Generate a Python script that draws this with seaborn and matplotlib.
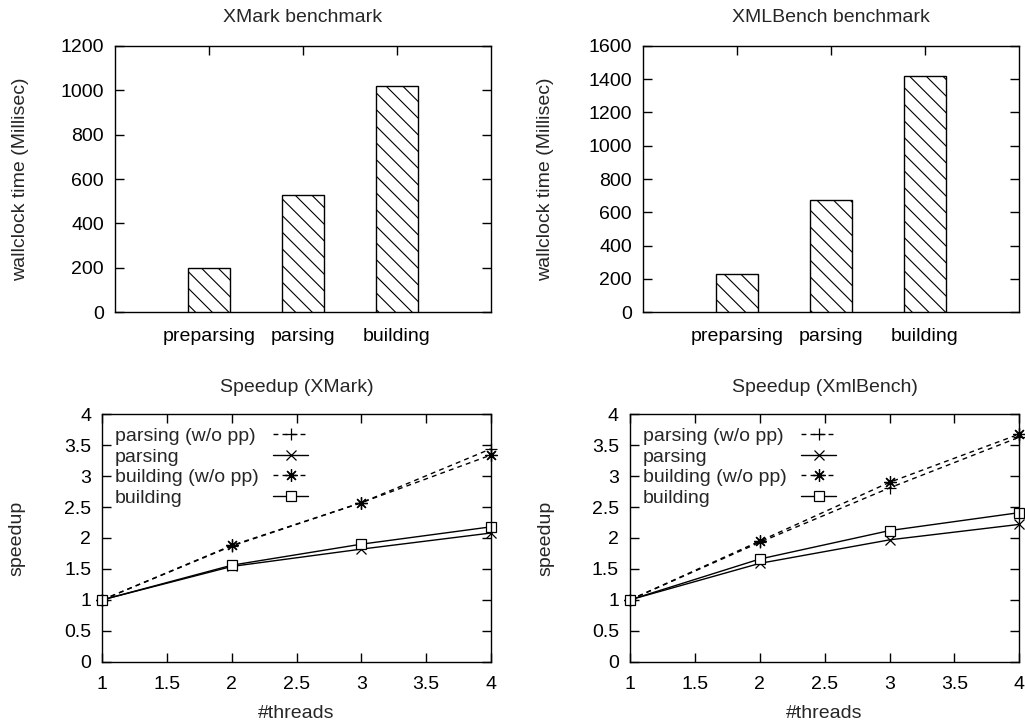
import matplotlib
matplotlib.use("Agg")
import matplotlib.pyplot as plt
from matplotlib.ticker import MultipleLocator, FuncFormatter
import seaborn as sns
import pandas as pd

# ---------------- data ----------------
phases = ["preparsing", "parsing", "building"]
xmark_time = [199, 530, 1018]
xmlbench_time = [228, 676, 1418]

threads = [1, 2, 3, 4]
xmark_parsing_wopp = [1.0, 1.87, 2.57, 3.44]
xmark_parsing = [1.0, 1.54, 1.82, 2.08]
xmark_building_wopp = [1.0, 1.88, 2.57, 3.34]
xmark_building = [1.0, 1.56, 1.90, 2.18]

xml_parsing_wopp = [1.0, 1.93, 2.81, 3.63]
xml_parsing = [1.0, 1.59, 1.97, 2.22]
xml_building_wopp = [1.0, 1.95, 2.90, 3.68]
xml_building = [1.0, 1.66, 2.12, 2.41]

series_names = ["parsing (w/o pp)", "parsing", "building (w/o pp)", "building"]

# ---------------- style ----------------
FS = 14
sns.set_theme(style="ticks")
plt.rcParams["font.family"] = ["Liberation Sans", "DejaVu Sans"]
plt.rcParams["font.size"] = FS
plt.rcParams["axes.linewidth"] = 1.0
plt.rcParams["hatch.linewidth"] = 0.8
plt.rcParams["hatch.color"] = "black"

fig = plt.figure(figsize=(10.25, 7.26), dpi=100)

W, H = 1025.0, 726.0
def axes_px(x0, x1, ytop, ybot):
    return fig.add_axes([x0 / W, 1 - ybot / H, (x1 - x0) / W, (ybot - ytop) / H])

ax_tl = axes_px(115, 491, 45.7, 312.3)
ax_tr = axes_px(643, 1019, 45.7, 312.3)
ax_bl = axes_px(102.3, 490.7, 414.3, 661.7)
ax_br = axes_px(630, 1019.3, 414.3, 661.7)

fmt = FuncFormatter(lambda v, p: "%g" % v)

def style_common(ax):
    for s in ax.spines.values():
        s.set_color("black")
        s.set_linewidth(1.0)
    ax.tick_params(direction="in", length=6.5, width=1.0, colors="black",
                   labelsize=FS, top=True, right=True)
    ax.tick_params(axis="y", pad=8)
    ax.tick_params(axis="x", pad=10)

# ---------------- bar charts ----------------
def bar_panel(ax, values, title, ymax, ystep, label_x):
    df = pd.DataFrame({"phase": phases, "time": values})
    sns.barplot(data=df, x="phase", y="time", ax=ax, width=0.45,
                color="white", edgecolor="black", linewidth=1.0,
                saturation=1, zorder=3)
    for p in ax.patches:
        p.set_facecolor("white")
        p.set_edgecolor("black")
        p.set_hatch("\\\\")
    ax.set_xlim(-1, 3)
    ax.set_ylim(0, ymax)
    ax.yaxis.set_major_locator(MultipleLocator(ystep))
    style_common(ax)
    ax.tick_params(axis="x", bottom=False, top=True, pad=11)
    ax.set_xlabel("")
    ax.set_ylabel("wallclock time (Millisec)", fontsize=FS)
    ax.yaxis.label.set_va("center")
    ax.yaxis.set_label_coords(label_x, 0.5)
    ax.set_title(title, fontsize=FS, pad=17)

bar_panel(ax_tl, xmark_time, "XMark benchmark", 1200, 200, -0.25)
bar_panel(ax_tr, xmlbench_time, "XMLBench benchmark", 1600, 200, -0.26)

# ---------------- speedup charts ----------------
styles = {
    "parsing (w/o pp)": dict(ls=(0, (3.5, 3)), marker="+", ms=8, mfc="none"),
    "parsing": dict(ls="-", marker="x", ms=6.5, mfc="none"),
    "building (w/o pp)": dict(ls=(0, (3.5, 3)), marker=(8, 2, 0), ms=9, mfc="none"),
    "building": dict(ls="-", marker="s", ms=6.5, mfc="white"),
}

def speed_panel(ax, s1, s2, s3, s4, title, label_x):
    for name, vals in zip(series_names, [s1, s2, s3, s4]):
        st = styles[name]
        sns.lineplot(x=threads, y=vals, ax=ax, color="black", lw=1.0,
                     linestyle=st["ls"], marker=st["marker"], markersize=st["ms"],
                     markerfacecolor=st["mfc"], markeredgecolor="black",
                     markeredgewidth=0.9, label=name, clip_on=False)
    ax.set_xlim(1, 4)
    ax.set_ylim(0, 4)
    ax.xaxis.set_major_locator(MultipleLocator(0.5))
    ax.yaxis.set_major_locator(MultipleLocator(0.5))
    ax.xaxis.set_major_formatter(fmt)
    ax.yaxis.set_major_formatter(fmt)
    style_common(ax)
    ax.set_xlabel("#threads", fontsize=FS, labelpad=9)
    ax.set_ylabel("speedup", fontsize=FS)
    ax.yaxis.label.set_va("center")
    ax.yaxis.set_label_coords(label_x, 0.5)
    ax.set_title(title, fontsize=FS, pad=16)

    handles, labels = ax.get_legend_handles_labels()
    common = dict(loc="upper left", frameon=False, fontsize=FS,
                  labelspacing=0.15, borderpad=0, borderaxespad=0)
    # text column (left aligned)
    leg_txt = ax.legend(handles, labels, bbox_to_anchor=(0.033, 0.947),
                        handlelength=0, handletextpad=0, **common)
    for h in leg_txt.legend_handles:
        h.set_visible(False)
    ax.add_artist(leg_txt)
    # sample column (to the right of the texts)
    ax.legend(handles, [""] * len(handles), bbox_to_anchor=(0.44, 0.947),
              handlelength=1.8, handletextpad=0, **common)

speed_panel(ax_bl, xmark_parsing_wopp, xmark_parsing, xmark_building_wopp,
            xmark_building, "Speedup (XMark)", -0.22)
speed_panel(ax_br, xml_parsing_wopp, xml_parsing, xml_building_wopp,
            xml_building, "Speedup (XmlBench)", -0.217)

fig.savefig("out.png", dpi=100)
